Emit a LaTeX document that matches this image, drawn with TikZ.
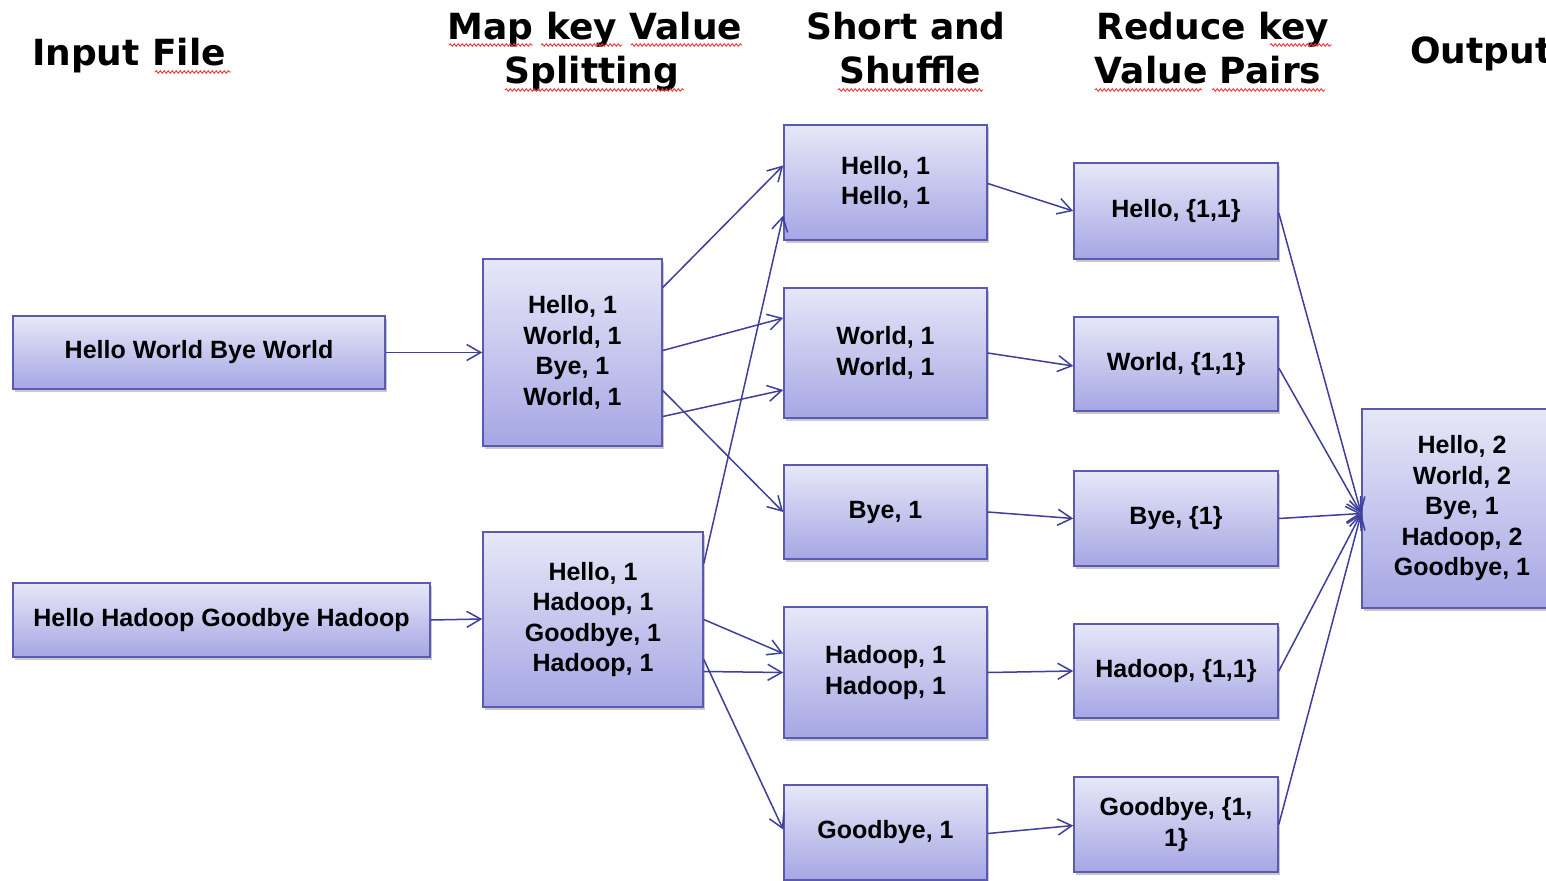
\documentclass[tikz,border=0pt]{standalone}
\usepackage{fontspec}
\usetikzlibrary{arrows.meta,calc,shadows,decorations.pathmorphing}
\newfontfamily\headfont{DejaVu Sans}
\newfontfamily\boxfont{Liberation Sans}
\definecolor{boxtop}{HTML}{E7E7F8}
\definecolor{boxbot}{HTML}{A6A6E4}
\definecolor{boxline}{HTML}{5A5AB2}
\definecolor{linkblue}{HTML}{3E3E9C}
\definecolor{spellred}{HTML}{F03434}
\begin{document}
\begin{tikzpicture}[x=1pt,y=-1pt,
  stage/.style={draw=boxline, line width=1.6pt, top color=boxtop, bottom color=boxbot,
    drop shadow={shadow xshift=2pt, shadow yshift=-2.5pt, opacity=0.35, fill=black!60},
    inner sep=0pt, align=center, text=black,
    font=\boxfont\bfseries\fontsize{25}{30.5}\selectfont},
  head/.style={font=\headfont\bfseries\fontsize{36}{44}\selectfont, anchor=base, inner sep=0pt},
  link/.style={draw=linkblue, line width=1.5pt,
    -{Straight Barb[length=14pt,width=16pt,line width=1.5pt]}},
  spell/.style={draw=spellred, line width=0.9pt, decorate,
    decoration={snake, segment length=4pt, amplitude=1.3pt}}
]
\path[use as bounding box] (0,0) rectangle (1546,880);
\fill[white] (0,0) rectangle (1546,880);
\clip (0,0) rectangle (1546,880);

% column headings
\node[head] (hin) at (129,66) {Input File};
\node[head] (hmap1) at (595,40) {Map key Value};
\node[head] (hmap2) at (592,84) {Splitting};
\node[head] (hsh1) at (906,40) {Short and};
\node[head] (hsh2) at (910,84) {Shuffle};
\node[head] (hred1) at (1213,40) {Reduce key};
\node[head] (hred2) at (1208,84) {Value Pairs};
\node[head, anchor=base west] (hout) at (1410,64) {Output};

% spell-check squiggles under the headings
\draw[spell] (155,72) -- (231,72);
\draw[spell] (449,45) -- (533,45);
\draw[spell] (541,45) -- (622,45);
\draw[spell] (631,45) -- (742,45);
\draw[spell] (505,90) -- (684,90);
\draw[spell] (838,90) -- (983,90);
\draw[spell] (1270,45) -- (1332,45);
\draw[spell] (1095,90) -- (1202,90);
\draw[spell] (1212,90) -- (1325,90);

% input lines
\node[stage, minimum width=372pt, minimum height=73pt] (i1) at (199,352.5) {Hello World Bye World};
\node[stage, minimum width=417pt, minimum height=74pt] (i2) at (221.5,620) {Hello Hadoop Goodbye Hadoop};

% map output
\node[stage, minimum width=179pt, minimum height=187pt] (m1) at (572.5,352.5) {Hello, 1\\World, 1\\Bye, 1\\World, 1};
\node[stage, minimum width=220pt, minimum height=175pt] (m2) at (593,619.5) {Hello, 1\\Hadoop, 1\\Goodbye, 1\\Hadoop, 1};

% sort and shuffle
\node[stage, minimum width=203pt, minimum height=115pt] (s1) at (885.5,182.5) {Hello, 1\\Hello, 1};
\node[stage, minimum width=203pt, minimum height=130pt] (s2) at (885.5,353) {World, 1\\World, 1};
\node[stage, minimum width=203pt, minimum height=94pt] (s3) at (885.5,512) {Bye, 1};
\node[stage, minimum width=203pt, minimum height=131pt] (s4) at (885.5,672.5) {Hadoop, 1\\Hadoop, 1};
\node[stage, minimum width=203pt, minimum height=95pt] (s5) at (885.5,832.5) {Goodbye, 1};

% reduce input
\node[stage, minimum width=204pt, minimum height=96pt] (r1) at (1176,211) {Hello, \{1,1\}};
\node[stage, minimum width=204pt, minimum height=94pt] (r2) at (1176,364) {World, \{1,1\}};
\node[stage, minimum width=204pt, minimum height=95pt] (r3) at (1176,518.5) {Bye, \{1\}};
\node[stage, minimum width=204pt, minimum height=94pt] (r4) at (1176,671) {Hadoop, \{1,1\}};
\node[stage, minimum width=204pt, minimum height=95pt] (r5) at (1176,824.5) {Goodbye, \{1,\\1\}};

% final output
\node[stage, minimum width=200pt, minimum height=199pt] (o) at (1462,508.5) {Hello, 2\\World, 2\\Bye, 1\\Hadoop, 2\\Goodbye, 1};

% input -> map
\draw[link] (i1.east) -- (m1.west);
\draw[link] (i2.east) -- ($(m2.west)+(0,-0.5)$);

% map -> shuffle
\draw[link] ($(m1.east)+(0,-65)$) -- ($(s1.west)+(0,-17)$);
\draw[link] ($(m1.east)+(0,-2)$) -- ($(s2.west)+(0,-35)$);
\draw[link] ($(m1.east)+(0,64)$) -- ($(s2.west)+(0,37)$);
\draw[link] ($(m1.east)+(0,38)$) -- ($(s3.west)+(0,0)$);
\draw[link] ($(m2.east)+(0,-56)$) -- ($(s1.west)+(0,33)$);
\draw[link] ($(m2.east)+(0,0)$) -- ($(s4.west)+(0,-19)$);
\draw[link] ($(m2.east)+(0,52)$) -- ($(s4.west)+(0,0)$);
\draw[link] ($(m2.east)+(0,40)$) -- ($(s5.west)+(0,-3)$);

% shuffle -> reduce
\draw[link] ($(s1.east)+(0,1)$) -- (r1.west);
\draw[link] (s2.east) -- ($(r2.west)+(0,2)$);
\draw[link] (s3.east) -- (r3.west);
\draw[link] (s4.east) -- (r4.west);
\draw[link] ($(s5.east)+(0,1)$) -- ($(r5.west)+(0,1)$);

% reduce -> output
\draw[link] ($(r1.east)+(0,2)$) -- ($(o.west)+(0,5)$);
\draw[link] ($(r2.east)+(0,4)$) -- ($(o.west)+(0,5)$);
\draw[link] (r3.east) -- ($(o.west)+(0,5)$);
\draw[link] (r4.east) -- ($(o.west)+(0,5)$);
\draw[link] (r5.east) -- ($(o.west)+(0,5)$);
\end{tikzpicture}
\end{document}
